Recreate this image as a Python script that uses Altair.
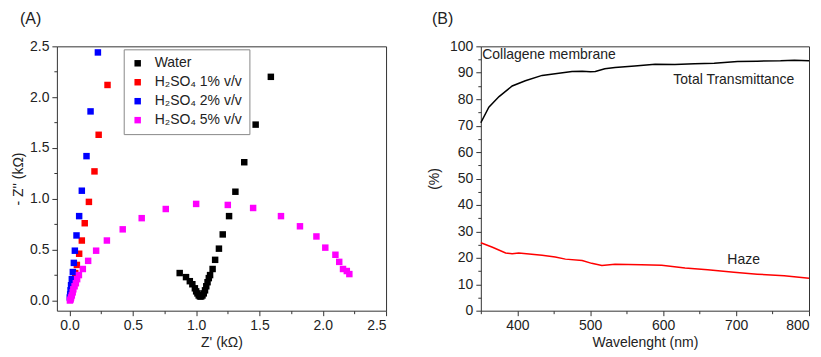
import altair as alt
import pandas as pd

# ---------------- Panel A data (Nyquist plot) ----------------
water_x = [0.87, 0.92, 0.95, 0.97, 0.99, 1.00, 1.01, 1.02, 1.03, 1.04, 1.05, 1.06, 1.07,
           1.08, 1.09, 1.10, 1.11, 1.13, 1.15, 1.18, 1.21, 1.26, 1.31, 1.38, 1.47, 1.59]
water_y = [0.27, 0.23, 0.19, 0.16, 0.12, 0.09, 0.07, 0.05, 0.04, 0.04, 0.05, 0.07, 0.10,
           0.14, 0.18, 0.22, 0.25, 0.31, 0.40, 0.51, 0.65, 0.83, 1.07, 1.36, 1.73, 2.20]

h1_x = [0.30, 0.23, 0.197, 0.153, 0.12, 0.097, 0.076, 0.058, 0.045, 0.035, 0.025, 0.017, 0.010, 0.005]
h1_y = [2.12, 1.63, 1.27, 0.97, 0.76, 0.59, 0.46, 0.35, 0.27, 0.20, 0.14, 0.09, 0.05, 0.02]

h2_x = [0.224, 0.166, 0.134, 0.097, 0.076, 0.055, 0.042, 0.034, 0.026, 0.018, 0.012, 0.008, 0.005, 0.002]
h2_y = [2.44, 1.86, 1.42, 1.08, 0.83, 0.64, 0.49, 0.37, 0.28, 0.21, 0.15, 0.10, 0.06, 0.03]

h5_x = [2.21, 2.19, 2.16, 2.13, 2.10, 2.02, 1.95, 1.82, 1.67, 1.45, 1.25, 1.00, 0.76, 0.57,
        0.42, 0.295, 0.21, 0.147, 0.105, 0.074, 0.060, 0.050, 0.040, 0.030, 0.025, 0.018,
        0.012, 0.008, 0.003]
h5_y = [0.26, 0.29, 0.31, 0.38, 0.45, 0.52, 0.63, 0.73, 0.83, 0.91, 0.94, 0.95, 0.90, 0.81,
        0.70, 0.59, 0.49, 0.39, 0.31, 0.25, 0.21, 0.17, 0.14, 0.11, 0.08, 0.05, 0.03, 0.01, 0.00]

series_names = ["Water", "H₂SO₄ 1% v/v", "H₂SO₄ 2% v/v", "H₂SO₄ 5% v/v"]
series_colors = ["#000000", "#ff0000", "#0000ff", "#ff00ff"]

# ---------------- Panel B data (optical) ----------------
tt_wl = [350, 361, 375, 393, 411, 434, 457, 475, 489, 500, 507, 520, 534, 561, 589, 616,
         643, 670, 702, 729, 761, 780, 800]
tt_val = [71.1, 77.0, 81.0, 85.0, 87.0, 89.0, 89.8, 90.5, 90.6, 90.4, 90.5, 91.5, 92.0,
          92.6, 93.25, 93.1, 93.4, 93.6, 94.25, 94.4, 94.5, 94.75, 94.5]

haze_wl = [350, 366, 384, 393, 402, 434, 452, 466, 489, 502, 516, 534, 570, 598, 630, 661,
           697, 729, 766, 800]
haze_val = [25.7, 24.0, 21.8, 21.5, 21.8, 21.0, 20.3, 19.5, 19.0, 17.9, 17.1, 17.6, 17.4,
            17.2, 16.1, 15.5, 14.5, 13.8, 13.2, 12.3]

ann_text = ["Collagene membrane", "Total Transmittance", "Haze"]
ann_x = [352, 614, 688]
ann_y = [96.6, 87.2, 19.0]

FONT = "Liberation Sans"
TXT = "#222222"

rows = []
for name, xs, ys in zip(series_names, [water_x, h1_x, h2_x, h5_x], [water_y, h1_y, h2_y, h5_y]):
    for a, b in zip(xs, ys):
        rows.append({"series": name, "zr": a, "zi": b})
dfA = pd.DataFrame(rows)

dfB = pd.concat([
    pd.DataFrame({"wl": tt_wl, "val": tt_val, "curve": "Total"}),
    pd.DataFrame({"wl": haze_wl, "val": haze_val, "curve": "Haze"}),
])
dfAnn = pd.DataFrame({"t": ann_text, "x": ann_x, "y": ann_y})


def axis(values, major_test, fmt, title, title_pad, **kw):
    return alt.Axis(
        values=values,
        labelExpr=f"({major_test}) ? format(datum.value, '{fmt}') : ''",
        tickSize={"condition": {"test": major_test, "value": 5}, "value": 3},
        tickColor="#333333",
        domain=False,
        grid=False,
        labelOverlap=False,
        labelFont=FONT, labelFontSize=14, labelColor=TXT, labelPadding=3,
        title=title, titleFont=FONT, titleFontSize=14, titleFontWeight="normal",
        titleColor=TXT, titlePadding=title_pad,
        **kw,
    )


halfs = [i * 0.25 for i in range(0, 11)]
major_half = "abs(datum.value/0.5 - round(datum.value/0.5)) < 0.001"

chartA = alt.Chart(dfA).mark_square(size=42, opacity=1).encode(
    x=alt.X("zr:Q", scale=alt.Scale(domain=[-0.1, 2.5], nice=False, zero=False),
            axis=axis(halfs, major_half, ".1f", "Z' (kΩ)", 3)),
    y=alt.Y("zi:Q", scale=alt.Scale(domain=[-0.1, 2.5], nice=False, zero=False),
            axis=axis(halfs, major_half, ".1f", "- Z'' (kΩ)", 4)),
    color=alt.Color("series:N", sort=series_names,
                    scale=alt.Scale(domain=series_names, range=series_colors),
                    legend=alt.Legend(title=None, orient="none", legendX=67, legendY=3,
                                      strokeColor="#888888", padding=7, symbolType="square",
                                      symbolSize=42, symbolStrokeWidth=0,
                                      labelFont=FONT, labelFontSize=14, labelColor=TXT,
                                      labelOffset=10, rowPadding=5, fillColor="white")),
    order=alt.Order("idx:Q"),
).transform_window(idx="row_number()").properties(
    width=330, height=265,
    title=alt.TitleParams("(A)", anchor="start", frame="group", dx=-37, offset=12,
                          font=FONT, fontSize=16, fontWeight="normal", color=TXT),
)

xvalsB = list(range(350, 801, 50))
yvalsB = list(range(0, 101, 5))
xsB = alt.Scale(domain=[350, 800], nice=False, zero=False)
ysB = alt.Scale(domain=[0, 100], nice=False, zero=False)
xaxB = axis(xvalsB, "datum.value % 100 == 0", "d", "Wavelenght (nm)", 3,
            labelFlush=True, labelFlushOffset=0)
yaxB = axis(yvalsB, "datum.value % 10 == 0", "d", "(%)", 8)

lines = alt.Chart(dfB).mark_line(strokeWidth=1.5).encode(
    x=alt.X("wl:Q", scale=xsB, axis=xaxB),
    y=alt.Y("val:Q", scale=ysB, axis=yaxB),
    color=alt.Color("curve:N", scale=alt.Scale(domain=["Total", "Haze"],
                                               range=["#000000", "#ff0000"]), legend=None),
    detail="curve:N",
)

texts = alt.Chart(dfAnn).mark_text(align="left", baseline="middle", font=FONT,
                                   fontSize=14, color=TXT).encode(
    x=alt.X("x:Q", scale=xsB, axis=xaxB), y=alt.Y("y:Q", scale=ysB, axis=yaxB), text="t:N")

chartB = alt.layer(lines, texts).properties(
    width=329, height=265,
    title=alt.TitleParams("(B)", anchor="start", frame="group", dx=-49, offset=12,
                          font=FONT, fontSize=16, fontWeight="normal", color=TXT),
)

chart = alt.hconcat(chartA, chartB, spacing=95, bounds="flush").resolve_scale(
    color="independent"
).resolve_legend(color="independent").configure_view(
    stroke="#333333", strokeWidth=1
).properties(padding={"left": 3, "top": 2, "right": 0, "bottom": 0})

chart.save("out.html", embed_options={"renderer": "svg", "actions": False})
